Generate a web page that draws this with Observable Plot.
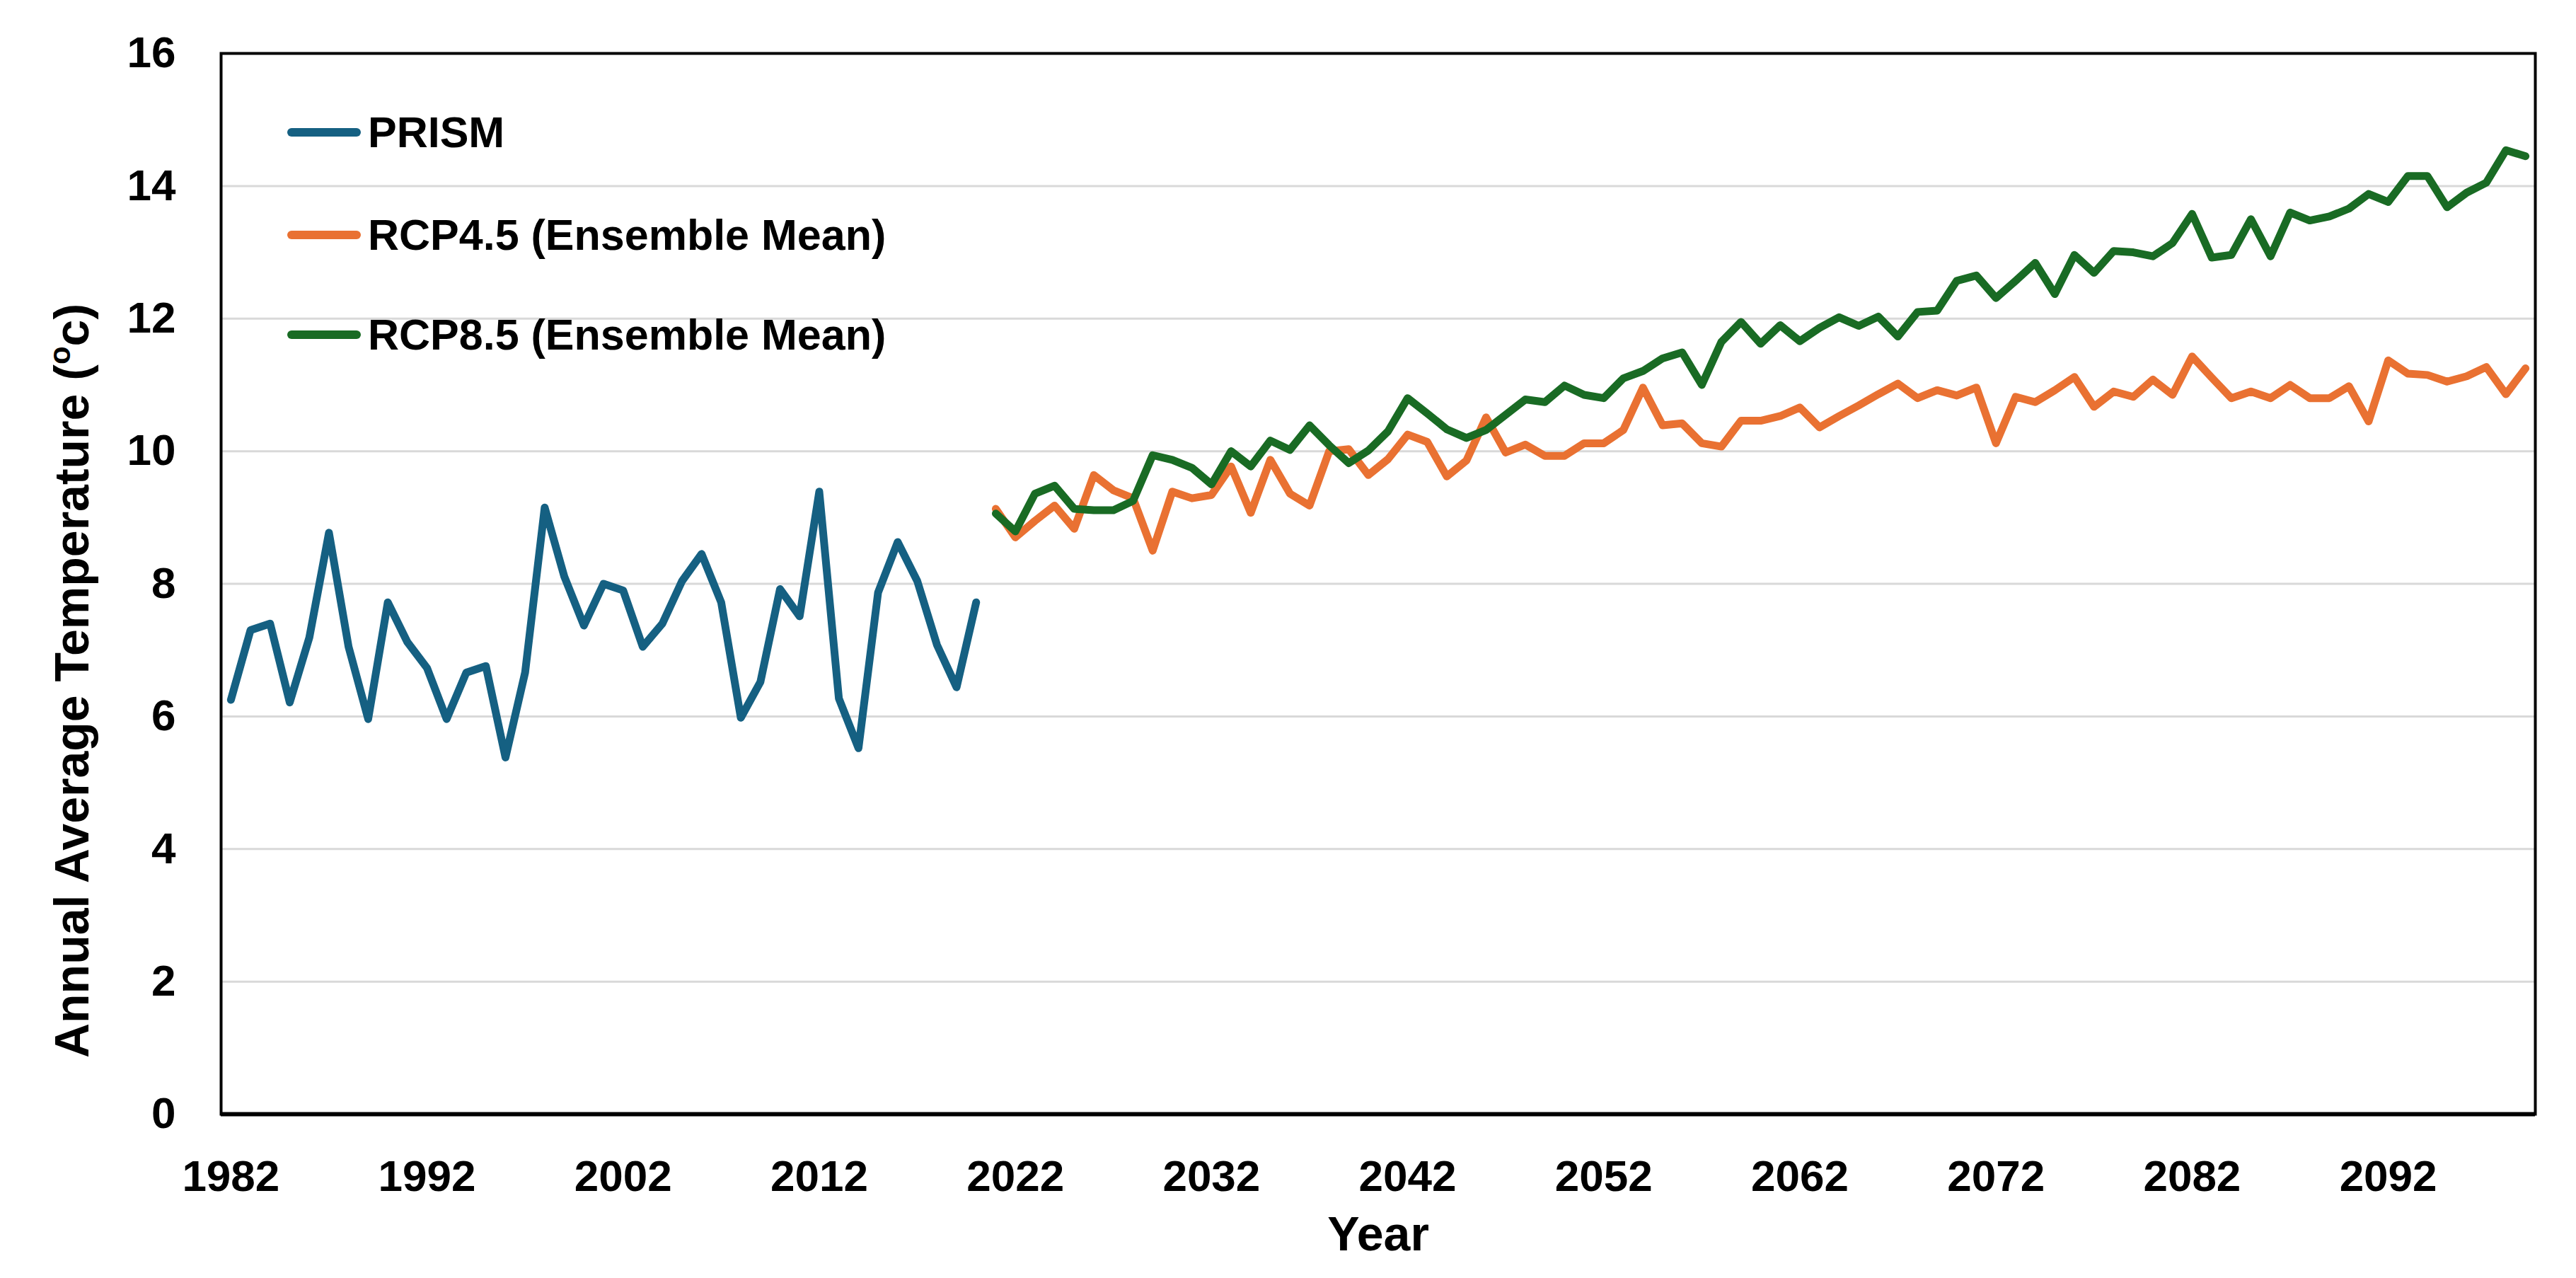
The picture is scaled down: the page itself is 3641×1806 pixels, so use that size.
<!DOCTYPE html>
<html>
<head>
<meta charset="utf-8">
<script src="https://cdn.jsdelivr.net/npm/d3@7"></script>
<script src="https://cdn.jsdelivr.net/npm/@observablehq/plot@0.6"></script>
<style>
  html, body { margin: 0; padding: 0; background: #fff; }
  #wrap { position: relative; width: 3641px; height: 1806px; }
  #wrap svg { display: block; }
  .legend-row { position: absolute; left: 406px; height: 60px; display: flex; align-items: center;
    font-family: "Liberation Sans", Arial, sans-serif; font-weight: bold; font-size: 61px; line-height: 60px; color: #000; white-space: nowrap; }
  .legend-swatch { width: 104px; height: 12px; border-radius: 6px; margin-right: 10px; }
</style>
</head>
<body>
<div id="wrap"></div>
<script>
// ---- Data ----
const prismStart = 1982;
const prismValues = [6.25, 7.30, 7.40, 6.21, 7.19, 8.77, 7.05, 5.96, 7.72, 7.12,
  6.73, 5.96, 6.66, 6.76, 5.38, 6.66, 9.15, 8.11, 7.37, 8.00,
  7.90, 7.05, 7.40, 8.04, 8.45, 7.72, 5.98, 6.52, 7.92, 7.51,
  9.39, 6.27, 5.52, 7.87, 8.63, 8.04, 7.08, 6.44, 7.72];

const rcpStart = 2021;
const rcp45Values = [9.13, 8.70, 8.95, 9.18, 8.83, 9.64, 9.41, 9.29, 8.50, 9.39,
  9.29, 9.34, 9.77, 9.07, 9.87, 9.36, 9.18, 10.00, 10.03, 9.64,
  9.88, 10.25, 10.14, 9.62, 9.86, 10.51, 9.98, 10.10, 9.93, 9.93,
  10.12, 10.12, 10.32, 10.96, 10.39, 10.42, 10.12, 10.07, 10.46, 10.46,
  10.53, 10.66, 10.36, 10.53, 10.69, 10.86, 11.02, 10.80, 10.92, 10.84,
  10.96, 10.12, 10.82, 10.74, 10.92, 11.12, 10.67, 10.90, 10.82, 11.08,
  10.85, 11.43, 11.11, 10.80, 10.90, 10.80, 11.00, 10.80, 10.80, 10.98,
  10.45, 11.37, 11.17, 11.15, 11.05, 11.13, 11.27, 10.86, 11.25];

const rcp85Values = [9.06, 8.79, 9.36, 9.48, 9.13, 9.11, 9.11, 9.25, 9.94, 9.87,
  9.75, 9.50, 10.00, 9.77, 10.16, 10.02, 10.39, 10.09, 9.82, 10.01,
  10.30, 10.80, 10.57, 10.33, 10.20, 10.32, 10.55, 10.78, 10.74, 10.99,
  10.85, 10.80, 11.10, 11.21, 11.40, 11.49, 11.00, 11.65, 11.95, 11.62,
  11.90, 11.66, 11.86, 12.02, 11.89, 12.03, 11.73, 12.10, 12.12, 12.57,
  12.65, 12.31, 12.57, 12.84, 12.37, 12.96, 12.69, 13.02, 13.00, 12.94,
  13.14, 13.58, 12.92, 12.96, 13.50, 12.94, 13.60, 13.48, 13.54, 13.66,
  13.88, 13.76, 14.15, 14.15, 13.68, 13.90, 14.05, 14.54, 14.45];

const seriesNames = ["PRISM", "RCP4.5 (Ensemble Mean)", "RCP8.5 (Ensemble Mean)"];
const seriesColors = ["#156082", "#E97132", "#196B24"];
const xTicks = [1982, 1992, 2002, 2012, 2022, 2032, 2042, 2052, 2062, 2072, 2082, 2092];
const yTicks = [0, 2, 4, 6, 8, 10, 12, 14, 16];
const xTitle = "Year";
const yTitleMain = "Annual Average Temperature (";
const yTitleSup = "o";
const yTitleEnd = "c)";

// ---- Build tables ----
const toRows = (start, vals) => vals.map((v, i) => ({year: start + i, value: v}));
const prismRows = toRows(prismStart, prismValues);
const rcp45Rows = toRows(rcpStart, rcp45Values);
const rcp85Rows = toRows(rcpStart, rcp85Values);
const lineStyle = {x: "year", y: "value", strokeWidth: 11, strokeLinejoin: "round", strokeLinecap: "round"};

const chart = Plot.plot({
  width: 3641,
  height: 1806,
  marginLeft: 312,
  marginRight: 58,
  marginTop: 75,
  marginBottom: 232,
  style: {fontFamily: "'Liberation Sans', Arial, sans-serif", fontWeight: "bold", fontSize: "62px", color: "#000", background: "#fff"},
  x: {domain: [prismStart - 0.5, rcpStart + rcp85Values.length - 1 + 0.5]},
  y: {domain: [0, 16]},
  marks: [
    Plot.ruleY(yTicks.filter(d => d > 0 && d < 16), {stroke: "#d9d9d9", strokeWidth: 3}),
    Plot.line(prismRows, {...lineStyle, stroke: seriesColors[0]}),
    Plot.line(rcp45Rows, {...lineStyle, stroke: seriesColors[1]}),
    Plot.line(rcp85Rows, {...lineStyle, stroke: seriesColors[2]}),
    Plot.frame({stroke: "#000", strokeWidth: 4}),
    Plot.ruleY([0], {stroke: "#000", strokeWidth: 6}),
    Plot.axisX({ticks: xTicks, tickFormat: d => String(d), tickSize: 0, tickPadding: 64, label: null}),
    Plot.axisY({ticks: yTicks, tickSize: 0, tickPadding: 64, label: null}),
    Plot.text([yTitleMain], {text: d => d, frameAnchor: "left", textAnchor: "middle", lineAnchor: "middle", rotate: -90, dx: -209, dy: 137, fontSize: 68, fontWeight: "bold", className: "ytitle"}),
    Plot.text([xTitle], {text: d => d, frameAnchor: "bottom", textAnchor: "middle", lineAnchor: "middle", dy: 171, fontSize: 68, fontWeight: "bold"})
  ]
});

// superscript "o" in the y title
const t = d3.select(chart).select("g.ytitle text");
t.text(null);
t.append("tspan").text(yTitleMain);
t.append("tspan").attr("dy", -26).attr("font-size", 42).text(yTitleSup);
t.append("tspan").attr("dy", 26).text(yTitleEnd);

const wrap = document.getElementById("wrap");
wrap.appendChild(chart);

// legend (inside plot, top-left)
const legendTops = [157, 302, 443];
seriesNames.forEach((name, i) => {
  const row = document.createElement("div");
  row.className = "legend-row";
  row.style.top = legendTops[i] + "px";
  const sw = document.createElement("span");
  sw.className = "legend-swatch";
  sw.style.background = seriesColors[i];
  const tx = document.createElement("span");
  tx.textContent = name;
  row.appendChild(sw);
  row.appendChild(tx);
  wrap.appendChild(row);
});
</script>
</body>
</html>
